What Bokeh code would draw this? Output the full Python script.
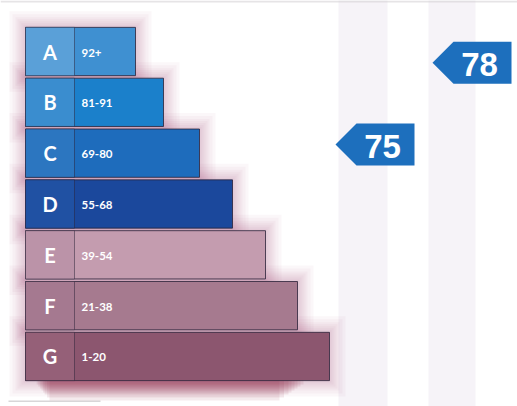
from bokeh.plotting import figure
from bokeh.models import Range1d
from bokeh.core.properties import value
from bokeh.embed import file_html
from bokeh.resources import INLINE

# ---- data ----
ratings = ["A", "B", "C", "D", "E", "F", "G"]
score_ranges = ["92+", "81-91", "69-80", "55-68", "39-54", "21-38", "1-20"]
bar_length = [110, 138, 174, 207, 240, 272, 304]
scores = [75, 78]              # current, potential
score_rows = [1.83, 0.22]      # vertical position of each arrow (row units)

# ---- styles ----
main_colors = ["#3f90d1", "#1b80cb", "#1e6cbc", "#1b489c", "#c49caf", "#a67a8f", "#8c566f"]
cell_colors = ["#5aa0d8", "#3a8dcf", "#2c76c0", "#2051a3", "#bb93a8", "#a57990", "#956078"]
arrow_color = "#1d6fbd"
band_color = "#f6f3f8"
glow_color = "#a8427a"

W, H = 517, 406
row_px = 50.83
top_px = 51
bar_left = 25
cell_w = 49
bar_h = 0.95

p = figure(width=W, height=H, output_backend="svg", toolbar_location=None,
           x_range=Range1d(0, W),
           y_range=Range1d((H - top_px) / row_px, -top_px / row_px),
           min_border=0, background_fill_color="white", border_fill_color="white",
           outline_line_color=None)
p.axis.visible = False
p.grid.visible = False

def py(px):
    """pixel row offset -> row units"""
    return (px - top_px) / row_px

rows = list(range(len(ratings)))
rights = [bar_left + L for L in bar_length]

# background columns (current / potential)
band_left = [338, 428]
band_w = [49, 47]
p.quad(left=band_left, right=[l + w for l, w in zip(band_left, band_w)],
       bottom=[py(H + 5)] * 2, top=[py(-5)] * 2, fill_color=band_color, line_color=None)

# faint rules top & bottom
p.quad(left=[0], right=[W], top=[py(0)], bottom=[py(2)],
       fill_color="#d6d2d6", line_color=None, fill_alpha=0.6)
p.quad(left=[8], right=[100], top=[py(400)], bottom=[py(401.5)],
       fill_color="#c8c4c8", line_color=None, fill_alpha=0.7)

# glow around bars
for d in [16, 13, 10, 8, 6, 4, 2]:
    dy = d / row_px
    p.quad(left=[bar_left - d] * 7, right=[r + d for r in rights],
           top=[r - bar_h / 2 - dy for r in rows], bottom=[r + bar_h / 2 + dy for r in rows],
           fill_color=glow_color, fill_alpha=0.045, line_color=None)

# bottom drop shadow under G
for d in [20, 17, 14, 12, 10, 8, 6, 4]:
    p.quad(left=[bar_left + 8 + d * 0.8], right=[rights[-1] - 20 - d * 1.5],
           top=[6 + bar_h / 2 - 0.02], bottom=[6 + bar_h / 2 + d / row_px],
           fill_color="#8a1638", fill_alpha=0.09, line_color=None)

# bars
p.hbar(y=rows, left=bar_left, right=rights, height=bar_h,
       fill_color=main_colors, line_color="#2a2238", line_alpha=0.8, line_width=1)
p.hbar(y=rows, left=bar_left, right=bar_left + cell_w, height=bar_h,
       fill_color=cell_colors, line_color="#2a2238", line_alpha=0.5, line_width=1)

p.text(x=[bar_left + cell_w / 2] * 7, y=rows, text=ratings,
       text_font=value("Lato"), text_font_style="bold", text_font_size="20px",
       text_color="white", text_align="center", text_baseline="middle")
p.text(x=[bar_left + cell_w + 7] * 7, y=[r + 0.02 for r in rows], text=score_ranges,
       text_font=value("Lato"), text_font_style="bold", text_font_size="11.5px",
       text_color="white", text_align="left", text_baseline="middle")

# arrows
tips = [335, 432]
tip_w, body_w = 21, 58
half = 21 / row_px
xs, ys = [], []
for t, r in zip(tips, score_rows):
    xs.append([t, t + tip_w, t + tip_w + body_w, t + tip_w + body_w, t + tip_w])
    ys.append([r, r - half, r - half, r + half, r + half])
p.patches(xs=xs, ys=ys, fill_color=arrow_color, line_color=None)
p.text(x=[t + tip_w + body_w / 2 - 3 for t in tips], y=[r + 0.03 for r in score_rows],
       text=[str(s) for s in scores],
       text_font=value("Liberation Sans"), text_font_style="bold", text_font_size="33px",
       text_color="white", text_align="center", text_baseline="middle")

open("out.html", "w").write(file_html(p, INLINE))
